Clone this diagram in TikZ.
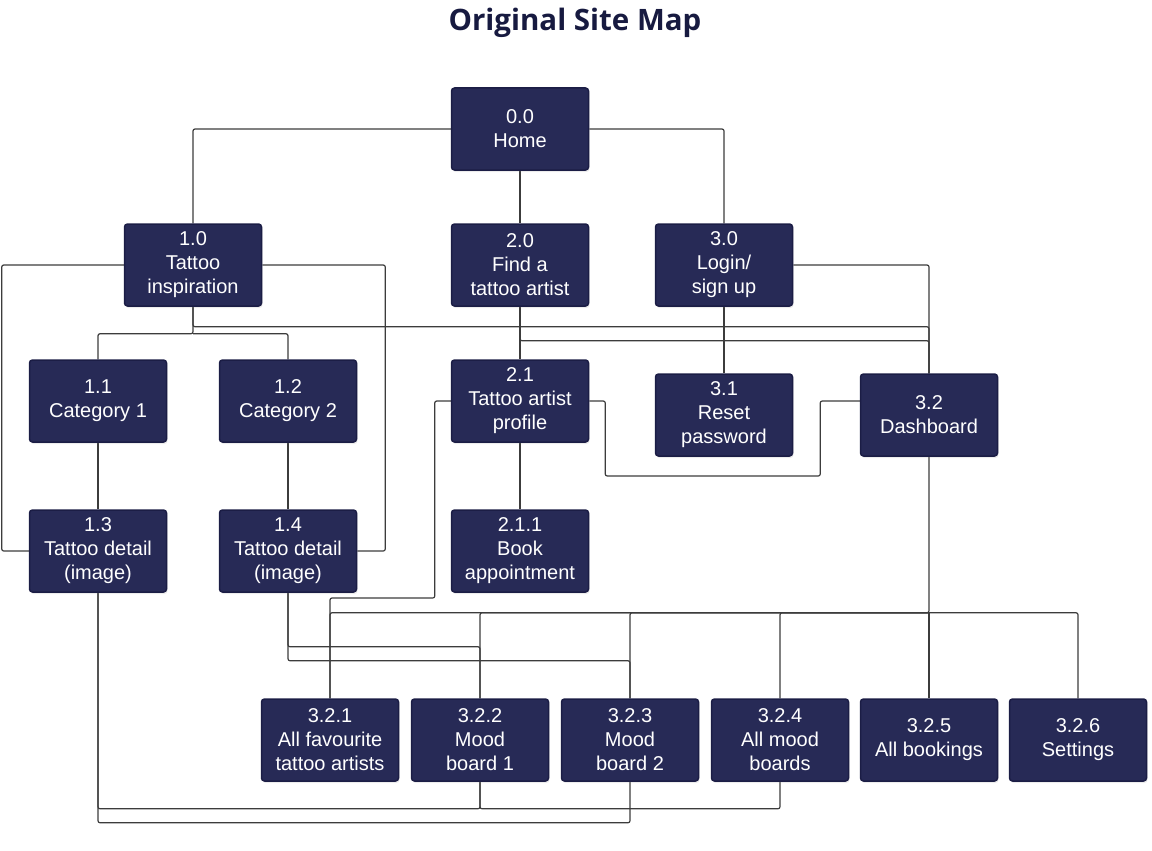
\documentclass[tikz,border=0pt]{standalone}
\usepackage{fontspec}
\setmainfont{Liberation Sans}
\newfontfamily\titlefont{Open Sans}
\usetikzlibrary{backgrounds,shadows}
\definecolor{boxfill}{HTML}{272A56}
\definecolor{boxedge}{HTML}{1B1D45}
\definecolor{wire}{HTML}{3C3C3C}
\definecolor{titleink}{HTML}{171A40}

\begin{document}
\begin{tikzpicture}[x=1pt,y=-1pt,
  page/.style={draw=boxedge, line width=1.5pt, fill=boxfill, rounded corners=3pt,
    minimum width=137pt, minimum height=82pt, inner sep=0pt, text=white,
    align=center, font=\fontsize{20}{24}\selectfont,
    drop shadow={opacity=0.15, shadow xshift=1pt, shadow yshift=-2pt}},
  link/.style={draw=wire, line width=1.2pt, rounded corners=2pt}]
\useasboundingbox (0,0) rectangle (1152,851);

% title
\node[font=\titlefont\bfseries\fontsize{29.5}{34}\selectfont, text=titleink] (title) at (575,23) {Original Site Map};

% pages
\node[page] (home) at (520,129) {0.0\\Home};
\node[page] (n10) at (193,265) {1.0\\Tattoo\\inspiration};
\node[page] (n20) at (520,265) {2.0\\Find a\\tattoo artist};
\node[page] (n30) at (724,265) {3.0\\Login/\\sign up};
\node[page] (n11) at (98,401) {1.1\\Category 1};
\node[page] (n12) at (288,401) {1.2\\Category 2};
\node[page] (n21) at (520,401) {2.1\\Tattoo artist\\profile};
\node[page] (n31) at (724,415) {3.1\\Reset\\password};
\node[page] (n32) at (929,415) {3.2\\Dashboard};
\node[page] (n13) at (98,551) {1.3\\Tattoo detail\\(image)};
\node[page] (n14) at (288,551) {1.4\\Tattoo detail\\(image)};
\node[page] (n211) at (520,551) {2.1.1\\Book\\appointment};
\node[page] (n321) at (330,740) {3.2.1\\All favourite\\tattoo artists};
\node[page] (n322) at (480,740) {3.2.2\\Mood\\board 1};
\node[page] (n323) at (630,740) {3.2.3\\Mood\\board 2};
\node[page] (n324) at (780,740) {3.2.4\\All mood\\boards};
\node[page] (n325) at (929,740) {3.2.5\\All bookings};
\node[page] (n326) at (1078,740) {3.2.6\\Settings};

% connectors
\begin{scope}[on background layer]
  \draw[link] (home.west) -| (n10.north);
  \draw[link] (home.south) -- (n20.north);
  \draw[link] (home.east) -| (n30.north);

  \draw[link] (n10.west) -- ++(-122,0) |- (n13.west);
  \draw[link] (n10.east) -- ++(123,0) |- (n14.east);
  \draw[link] (n10.south) -- ++(0,27) coordinate (cat) -| (n11.north);
  \draw[link] (cat) -| (n12.north);
  \draw[link] (n10.south) -- ++(0,20) -| (n32.north);
  \draw[link] (n11.south) -- (n13.north);
  \draw[link] (n12.south) -- (n14.north);

  \draw[link] (n20.south) -- (n21.north);
  \draw[link] (n20.south) -- ++(0,34) -| (n32.north);
  \draw[link] (n21.south) -- (n211.north);
  \draw[link] (n21.east) -- ++(16,0) -- ++(0,75) -- ++(215,0) -- ++(0,-75) -- (n32.west |- n21.east);
  \draw[link] (n21.west) -- ++(-16,0) -- ++(0,197) -| (n321.north);

  \draw[link] (n30.south) -- (n31.north);
  \draw[link] (n30.east) -| (n32.north);

  \draw[link] (n32.south) -- ++(0,156) coordinate (dash) -| (n321.north);
  \draw[link] (dash) -| (n322.north);
  \draw[link] (dash) -| (n323.north);
  \draw[link] (dash) -| (n324.north);
  \draw[link] (dash) -- (n325.north);
  \draw[link] (dash) -| (n326.north);

  \draw[link] (n14.south) -- ++(0,54) -| (n322.north);
  \draw[link] (n14.south) -- ++(0,68) -| (n323.north);
  \draw[link] (n13.south) -- ++(0,216) -| (n322.south);
  \draw[link] (n13.south) -- ++(0,230) -| (n323.south);
  \draw[link] (n324.south) -- ++(0,27) -| (n322.south);
\end{scope}
\end{tikzpicture}
\end{document}
